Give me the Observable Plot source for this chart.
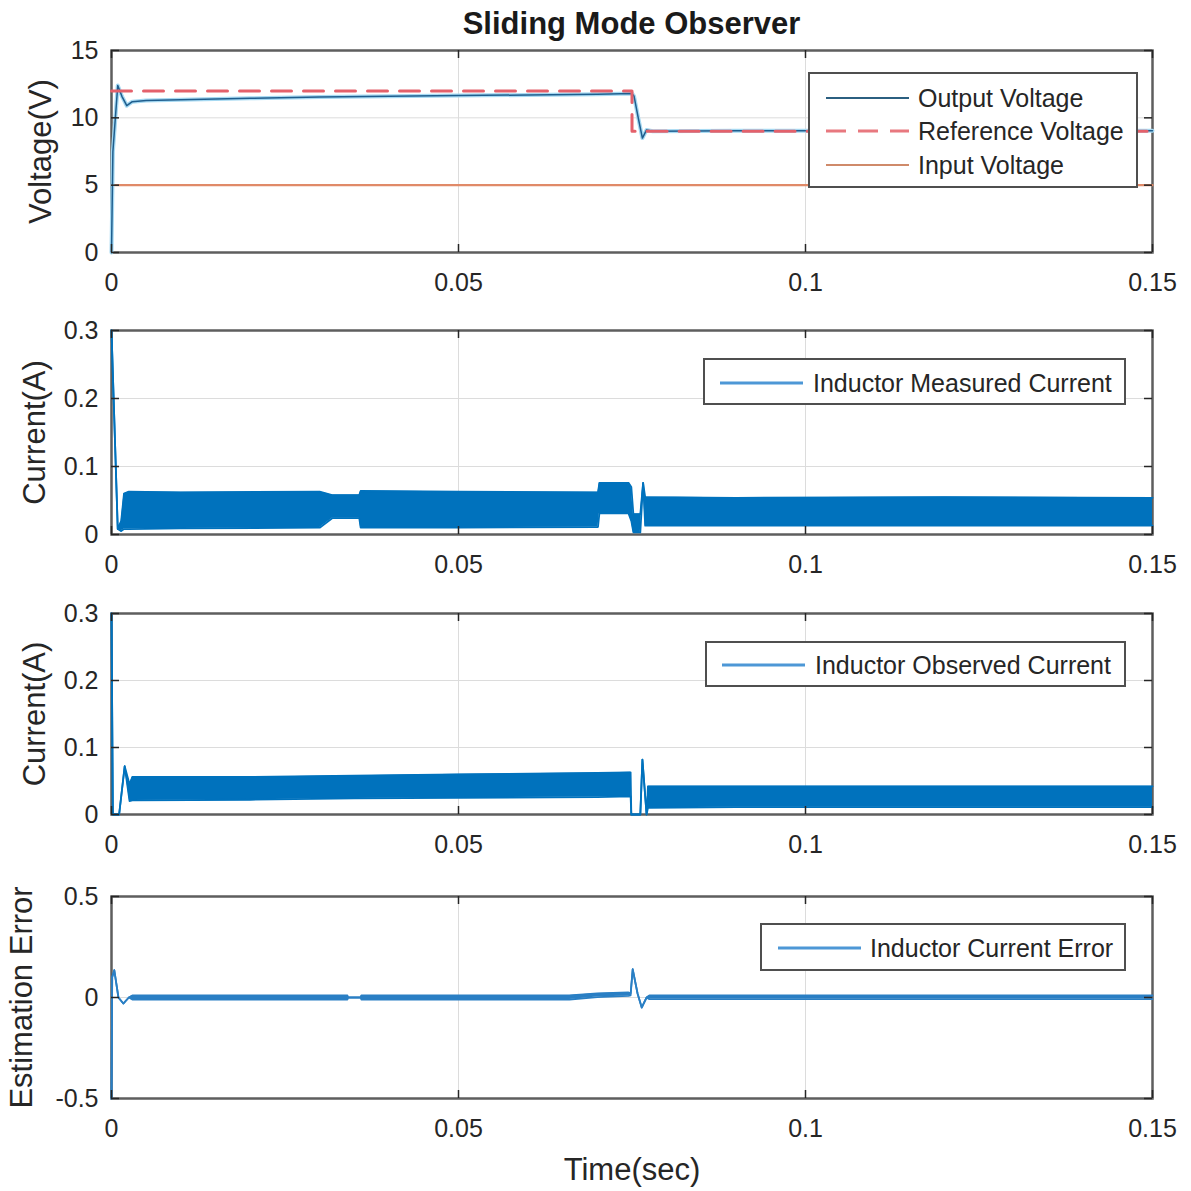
<!DOCTYPE html>
<html><head><meta charset="utf-8">
<script src="https://cdn.jsdelivr.net/npm/d3@7"></script>
<script src="https://cdn.jsdelivr.net/npm/@observablehq/plot@0.6"></script>
<style>
body{margin:0;background:#fff;}
#root{position:relative;width:1191px;height:1191px;font-family:"Liberation Sans",Arial,sans-serif;color:#262626;overflow:hidden;}
.title{position:absolute;left:111px;width:1041px;top:6px;height:36px;line-height:36px;text-align:center;font-weight:bold;font-size:31px;color:#1a1a1a;}
.panel{position:absolute;left:0;}
.legend{position:absolute;background:#fff;border:2px solid #4f4f4f;box-sizing:border-box;}
.lrow{position:absolute;left:0;width:100%;height:30px;}
.lrow svg{position:absolute;top:0;}
.lrow span{position:absolute;top:0;font-size:25px;line-height:30px;white-space:nowrap;color:#262626;}
</style></head>
<body><div id="root"></div>
<script>
// ---------- data ----------
const xTicks = [0, 0.05, 0.1, 0.15];
const xTickLabels = ["0", "0.05", "0.1", "0.15"];
const voltTicks = [0, 5, 10, 15];
const voltTickLabels = ["0", "5", "10", "15"];
const currTicks = [0, 0.1, 0.2, 0.3];
const currTickLabels = ["0", "0.1", "0.2", "0.3"];
const errTicks = [-0.5, 0, 0.5];
const errTickLabels = ["-0.5", "0", "0.5"];

// Panel 1 : voltages
const outVTime = [0, 0.0002, 0.0009, 0.0015, 0.0022, 0.003, 0.005, 0.01, 0.02, 0.03, 0.04, 0.05, 0.06, 0.07, 0.075, 0.0753, 0.0759, 0.0765, 0.0771, 0.078, 0.09, 0.1, 0.12, 0.15];
const outVolt  = [0, 7.5, 12.4, 11.6, 10.9, 11.2, 11.28, 11.35, 11.45, 11.55, 11.6, 11.65, 11.7, 11.75, 11.8, 11.6, 10.0, 8.5, 9.1, 9.0, 9.05, 9.05, 9.05, 9.05];
const refTime  = [0, 0.075, 0.075, 0.15];
const refVolt  = [12, 12, 9, 9];
const inTime   = [0, 0.15];
const inVolt   = [5, 5];

// Panel 2 : inductor measured current (envelope of the switching ripple)
const measTime = [0, 0.0009, 0.0014, 0.0018, 0.0025, 0.01, 0.03, 0.0318, 0.0357, 0.0359, 0.05, 0.0701, 0.0703, 0.0745, 0.0749, 0.0752, 0.0762, 0.0766, 0.0769, 0.09, 0.12, 0.15];
const measLo   = [0.3, 0.008, 0.005, 0.008, 0.008, 0.009, 0.01, 0.024, 0.024, 0.01, 0.01, 0.011, 0.031, 0.031, 0.02, 0.003, 0.003, 0.076, 0.013, 0.013, 0.013, 0.013];
const measHi   = [0.3, 0.008, 0.02, 0.06, 0.063, 0.062, 0.063, 0.058, 0.058, 0.064, 0.063, 0.062, 0.076, 0.076, 0.07, 0.03, 0.03, 0.076, 0.055, 0.054, 0.055, 0.054];

// Panel 3 : inductor observed current
const obsTime = [0, 0.0002, 0.0011, 0.0019, 0.0026, 0.003, 0.02, 0.035, 0.05, 0.07, 0.0748, 0.0749, 0.0762, 0.0765, 0.0771, 0.0773, 0.09, 0.12, 0.15];
const obsLo   = [0.3, 0, 0, 0.072, 0.02, 0.021, 0.022, 0.024, 0.025, 0.026, 0.027, 0, 0, 0.082, 0, 0.01, 0.011, 0.011, 0.011];
const obsHi   = [0.3, 0, 0, 0.072, 0.045, 0.056, 0.056, 0.058, 0.06, 0.062, 0.063, 0, 0, 0.082, 0, 0.042, 0.042, 0.042, 0.042];

// Panel 4 : estimation error
const errTime = [0, 0.0001, 0.0004, 0.001, 0.0017, 0.0025, 0.003, 0.02, 0.034, 0.0341, 0.0359, 0.036, 0.066, 0.07, 0.0745, 0.0748, 0.0751, 0.0758, 0.0764, 0.0771, 0.0775, 0.1, 0.15];
const errLo   = [-0.5, 0.1, 0.135, 0, -0.03, 0, -0.01, -0.01, -0.01, 0, 0, -0.01, -0.01, 0.002, 0.008, 0.01, 0.14, 0.02, -0.05, 0, -0.008, -0.008, -0.008];
const errHi   = [-0.5, 0.1, 0.135, 0, -0.03, 0, 0.01, 0.01, 0.01, 0, 0, 0.01, 0.01, 0.02, 0.025, 0.02, 0.14, 0.02, -0.05, 0, 0.01, 0.01, 0.01];

// ---------- helpers ----------
const W = 1191, ML = 111, MR = 39;
const BLUE = "#0072BD";
const series = (ts, ys) => ts.map((t, i) => ({t, y: ys[i]}));
const band = (ts, lo, hi) => ts.map((t, i) => ({t, lo: lo[i], hi: hi[i]}));
const fmt = (ticks, labels) => d => labels[ticks.indexOf(d)];

function bandMarks(data, color) {
  return [
    Plot.areaY(data, {x: "t", y1: "lo", y2: "hi", fill: color, curve: "linear"}),
    Plot.line(data, {x: "t", y: "hi", stroke: color, strokeWidth: 1.8}),
    Plot.line(data, {x: "t", y: "lo", stroke: color, strokeWidth: 1.8})
  ];
}

function makePanel(cfg) {
  const innerH = cfg.height - cfg.mt - cfg.mb;
  const innerW = W - ML - MR;
  const T = 8;
  const extra = [];
  if (cfg.xTitle) extra.push(Plot.text([cfg.xTitle], {text: d => d, frameAnchor: "bottom", dy: 72, textAnchor: "middle", lineAnchor: "middle", fontSize: 31, fill: "#262626"}));
  const svg = Plot.plot({
    width: W, height: cfg.height,
    marginLeft: ML, marginRight: MR, marginTop: cfg.mt, marginBottom: cfg.mb,
    style: {fontFamily: '"Liberation Sans", Arial, sans-serif', fontSize: "25px", color: "#262626", background: "transparent", overflow: "visible"},
    x: {domain: [0, 0.15]},
    y: {domain: cfg.yDomain},
    marks: [
      Plot.ruleX(xTicks, {x: d => d, stroke: "#dcdcdc", strokeWidth: 1}),
      Plot.ruleY(cfg.yTicks, {y: d => d, stroke: "#dcdcdc", strokeWidth: 1}),
      Plot.frame({stroke: "#5e5e5e", strokeWidth: 2.5}),
      ...cfg.marks,
      Plot.ruleX(xTicks, {x: d => d, stroke: "#262626", strokeWidth: 1.5, insetTop: innerH - T}),
      Plot.ruleX(xTicks, {x: d => d, stroke: "#262626", strokeWidth: 1.5, insetBottom: innerH - T}),
      Plot.ruleY(cfg.yTicks, {y: d => d, stroke: "#262626", strokeWidth: 1.5, insetRight: innerW - T}),
      Plot.ruleY(cfg.yTicks, {y: d => d, stroke: "#262626", strokeWidth: 1.5, insetLeft: innerW - T}),
      Plot.axisX(xTicks, {tickSize: 0, tickPadding: 21, tickFormat: fmt(xTicks, xTickLabels), label: null, fontSize: 25}),
      Plot.axisY(cfg.yTicks, {tickSize: 0, tickPadding: 13, tickFormat: fmt(cfg.yTicks, cfg.yLabels), label: null, fontSize: 25}),
      Plot.text([cfg.yTitle], {text: d => d, frameAnchor: "left", dx: cfg.yTitleX - ML, rotate: -90, textAnchor: "middle", lineAnchor: "middle", fontSize: 31, fill: "#262626"}),
      ...extra
    ]
  });
  const div = document.createElement("div");
  div.className = "panel";
  div.style.top = cfg.top + "px";
  div.appendChild(svg);
  return div;
}

function makeLegend(box, rows) {
  const lg = document.createElement("div");
  lg.className = "legend";
  Object.assign(lg.style, {left: box.left + "px", top: box.top + "px", width: box.width + "px", height: box.height + "px"});
  rows.forEach(r => {
    const row = document.createElement("div");
    row.className = "lrow";
    row.style.top = (r.cy - box.top - 2 - 15) + "px";
    const s = d3.create("svg").attr("width", 84).attr("height", 30)
      .style("left", (r.x0 - box.left - 2) + "px");
    s.append("line").attr("x1", 0).attr("x2", 83).attr("y1", 15).attr("y2", 15)
      .attr("stroke", r.color).attr("stroke-width", r.width || 2.5)
      .attr("stroke-dasharray", r.dash || null);
    row.appendChild(s.node());
    const sp = document.createElement("span");
    sp.textContent = r.label;
    sp.style.left = (r.tx - box.left - 2) + "px";
    row.appendChild(sp);
    lg.appendChild(row);
  });
  return lg;
}

// ---------- build ----------
const root = document.getElementById("root");
const title = document.createElement("div");
title.className = "title";
title.textContent = "Sliding Mode Observer";
root.appendChild(title);

const outRows = series(outVTime, outVolt);
root.appendChild(makePanel({
  top: 40, height: 260, mt: 10, mb: 48,
  yDomain: [0, 15], yTicks: voltTicks, yLabels: voltTickLabels,
  yTitle: "Voltage(V)", yTitleX: 41,
  marks: [
    Plot.line(series(inTime, inVolt), {x: "t", y: "y", stroke: "#e08a68", strokeWidth: 2.2}),
    Plot.line(outRows, {x: "t", y: "y", stroke: "#a6d9f2", strokeWidth: 4}),
    Plot.line(outRows, {x: "t", y: "y", stroke: "#1f5e8e", strokeWidth: 1.5}),
    Plot.line(series(refTime, refVolt), {x: "t", y: "y", stroke: "#e4616b", strokeWidth: 3, strokeDasharray: "20,12"})
  ]
}));

root.appendChild(makePanel({
  top: 300, height: 282, mt: 30, mb: 48,
  yDomain: [0, 0.3], yTicks: currTicks, yLabels: currTickLabels,
  yTitle: "Current(A)", yTitleX: 35,
  marks: bandMarks(band(measTime, measLo, measHi), BLUE)
}));

root.appendChild(makePanel({
  top: 582, height: 282, mt: 31, mb: 50,
  yDomain: [0, 0.3], yTicks: currTicks, yLabels: currTickLabels,
  yTitle: "Current(A)", yTitleX: 35,
  marks: bandMarks(band(obsTime, obsLo, obsHi), BLUE)
}));

root.appendChild(makePanel({
  top: 864, height: 327, mt: 32, mb: 93,
  yDomain: [-0.5, 0.5], yTicks: errTicks, yLabels: errTickLabels,
  yTitle: "Estimation Error", yTitleX: 22,
  xTitle: "Time(sec)",
  marks: bandMarks(band(errTime, errLo, errHi), "#2a7fc4")
}));

root.appendChild(makeLegend({left: 808, top: 72, width: 330, height: 116}, [
  {cy: 98, x0: 826, tx: 918, label: "Output Voltage", color: "#2b5f80", width: 2},
  {cy: 131, x0: 826, tx: 918, label: "Reference Voltage", color: "#e8787f", width: 3, dash: "20,12"},
  {cy: 165, x0: 826, tx: 918, label: "Input Voltage", color: "#cf8a6a", width: 2}
]));
root.appendChild(makeLegend({left: 703, top: 358, width: 423, height: 47}, [
  {cy: 383, x0: 720, tx: 813, label: "Inductor Measured Current", color: "#4d97d6", width: 3}
]));
root.appendChild(makeLegend({left: 705, top: 641, width: 421, height: 46}, [
  {cy: 665, x0: 722, tx: 815, label: "Inductor Observed Current", color: "#4d97d6", width: 3}
]));
root.appendChild(makeLegend({left: 760, top: 923, width: 366, height: 48}, [
  {cy: 948, x0: 778, tx: 870, label: "Inductor Current Error", color: "#4d97d6", width: 3}
]));
</script>
</body></html>
